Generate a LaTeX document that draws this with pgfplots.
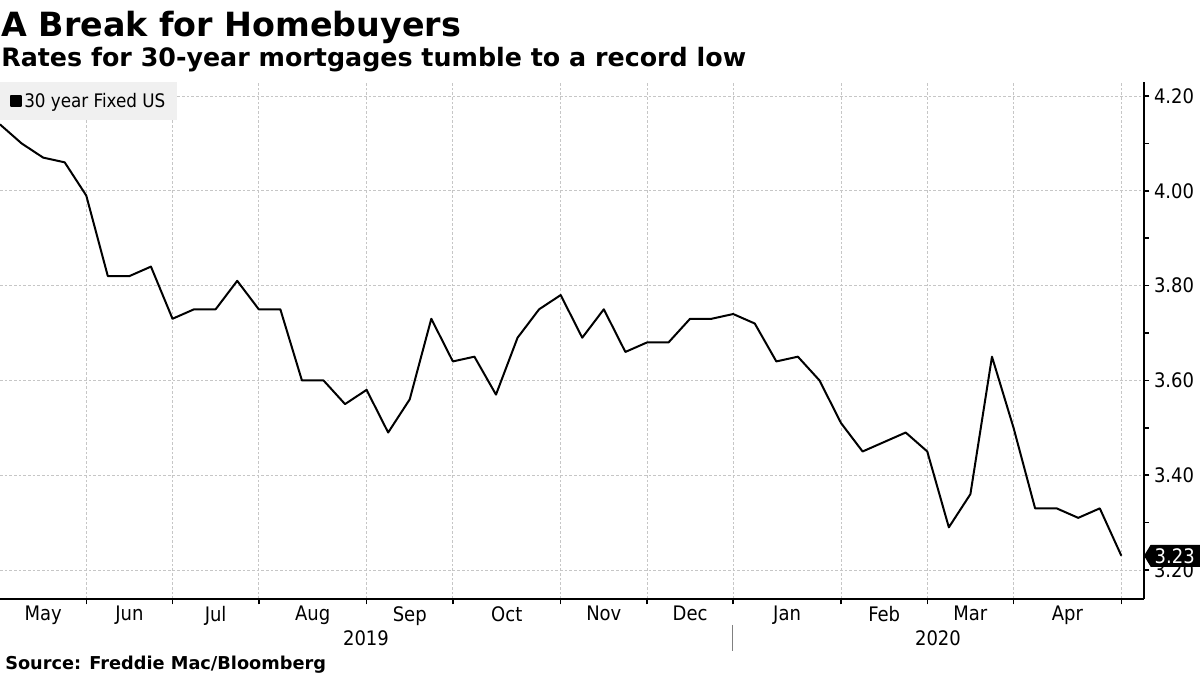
\documentclass[border=0pt]{standalone}
\usepackage{pgfplots}
\pgfplotsset{compat=1.18}
\usepackage{fontspec}
\setmainfont{DejaVu Sans Condensed}
\newfontfamily\wide{DejaVu Sans}
\begin{document}
\begin{tikzpicture}[x=0.75pt,y=0.75pt]
\useasboundingbox (0,0) rectangle (1200,675);
\begin{axis}[
  at={(0pt,57pt)}, anchor=south west,
  scale only axis, width=858pt, height=387.75pt,
  xmin=0, xmax=53.05, ymin=3.1388, ymax=4.2295,
  axis x line*=bottom, axis y line*=right,
  axis line style={line width=1.1pt, -},
  ytick={3.2,3.4,3.6,3.8,4.0,4.2},
  minor ytick={3.3,3.5,3.7,3.9,4.1},
  yticklabel style={/pgf/number format/.cd, fixed, fixed zerofill, precision=2},
  xtick={4,8,12,17,21,26,30,34,39,43,47,52},
  xticklabels={},
  extra x ticks={2,6,10,14.5,19,23.5,28,32,36.5,41,45,49.5},
  extra x tick labels={May,Jun,Jul,Aug,Sep,Oct,Nov,Dec,Jan,Feb,Mar,Apr},
  extra x tick style={grid=none, major tick length=0pt, xticklabel style={yshift=-2pt}},
  grid=major,
  major grid style={gray!45, line width=0.6pt, dash pattern=on 2pt off 1.5pt},
  tick align=outside,
  major tick length=4pt, minor tick length=3.5pt,
  tick style={black, line width=1.1pt},
  ticklabel style={font=\fontsize{15pt}{18pt}\selectfont},
  /pgf/number format/assume math mode=true,
  clip=false,
  legend style={at={(0,1)}, anchor=north west, fill=black!6, draw=none,
    font=\fontsize{14pt}{16pt}\selectfont, inner xsep=7pt, inner ysep=6.2pt},
  legend cell align=left,
  legend image code/.code={\fill[black] (0pt,-3.8pt) rectangle (7.5pt,3.7pt);},
]
\addplot[black, line width=1.5pt, line join=round] coordinates {
(0,4.14) (1,4.10) (2,4.07) (3,4.06) (4,3.99) (5,3.82) (6,3.82) (7,3.84)
(8,3.73) (9,3.75) (10,3.75) (11,3.81) (12,3.75) (13,3.75) (14,3.60) (15,3.60)
(16,3.55) (17,3.58) (18,3.49) (19,3.56) (20,3.73) (21,3.64) (22,3.65) (23,3.57)
(24,3.69) (25,3.75) (26,3.78) (27,3.69) (28,3.75) (29,3.66) (30,3.68) (31,3.68)
(32,3.73) (33,3.73) (34,3.74) (35,3.72) (36,3.64) (37,3.65) (38,3.60) (39,3.51)
(40,3.45) (41,3.47) (42,3.49) (43,3.45) (44,3.29) (45,3.36) (46,3.65) (47,3.50)
(48,3.33) (49,3.33) (50,3.31) (51,3.33) (52,3.23)
};
\addlegendentry{30 year Fixed US}
\fill[black] (axis cs:53.05,3.23) -- ++(5pt,8.25pt) -- ++(40pt,0pt) -- ++(0pt,-16.5pt) -- ++(-40pt,0pt) -- cycle;
\node[text=white, anchor=center, inner sep=0pt, font=\fontsize{15pt}{18pt}\selectfont] at ([xshift=23pt]axis cs:53.05,3.23) {3.23};
\end{axis}
\node[anchor=base west, inner sep=0pt, font=\wide\bfseries\fontsize{25pt}{30pt}\selectfont] at (1,638) {A Break for Homebuyers};
\node[anchor=base west, inner sep=0pt, font=\wide\bfseries\fontsize{19pt}{22pt}\selectfont] at (1,608) {Rates for 30-year mortgages tumble to a record low};
\node[anchor=base west, inner sep=0pt, font=\wide\bfseries\fontsize{13.3pt}{15pt}\selectfont] at (5,6) {Source: Freddie Mac/Bloomberg};
\node[anchor=center, inner sep=0pt, font=\fontsize{15pt}{18pt}\selectfont] at (366,37) {2019};
\node[anchor=center, inner sep=0pt, font=\fontsize{15pt}{18pt}\selectfont] at (938,37) {2020};
\draw[gray, line width=0.6pt] (732,50) -- (732,24);
\end{tikzpicture}
\end{document}
